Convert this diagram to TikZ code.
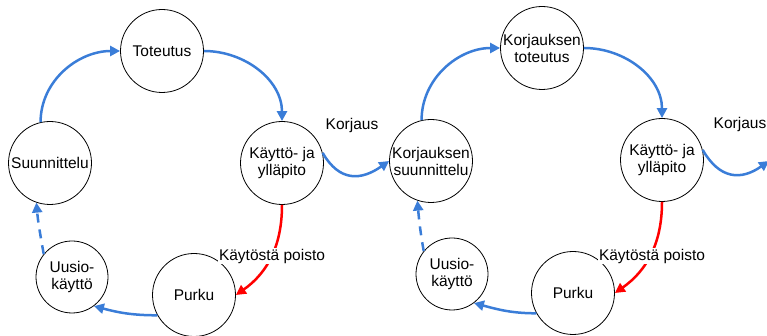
\documentclass[tikz,border=0pt]{standalone}
\usepackage{fontspec}
\setmainfont{Liberation Sans}
\usepackage{tikz}
\usetikzlibrary{arrows.meta, positioning}
\definecolor{flowblue}{RGB}{58,125,216}

\begin{document}
\begin{tikzpicture}[x=1pt,y=1pt,on grid,>={Triangle[length=10pt,width=10pt]}]
    \tikzstyle{state}=[shape=circle,draw,line width=0.8pt,minimum size=83pt,inner sep=0pt,align=center,font=\fontsize{15.5}{17}\selectfont]
    \tikzstyle{small state}=[state,minimum size=72pt]
    \tikzstyle{lbl}=[inner sep=1pt,font=\fontsize{15.5}{17}\selectfont]
    \tikzstyle{flow}=[->,line width=2.5pt,flowblue]

    \useasboundingbox (0,0) rectangle (767,336);
    \clip (0,0) rectangle (767,336);

    \node[state] (T0) at (162,285) {Toteutus};
    \node[state] (S0) at (50,173) {Suunnittelu};
    \node[state] (K0) at (282,173) {Käyttö- ja\\ylläpito};
    \node[small state] (U0) at (72,59) {Uusio-\\käyttö};
    \node[state] (P0) at (194,41) {Purku};

    \node[state, above right=3pt and 380pt of T0] (T1) {Korjauksen\\toteutus};
    \node[state, above right=2pt and 381pt of S0] (S1) {Korjauksen\\suunnittelu};
    \node[state, above right=3pt and 380pt of K0] (K1) {Käyttö- ja\\ylläpito};
    \node[small state, above right=3pt and 380pt of U0] (U1) {Uusio-\\käyttö};
    \node[state, above right=2pt and 379pt of P0] (P1) {Purku};
    \coordinate[above right=-1pt and 107pt of K1] (S2);

    \path[flow]
    (S0.103) edge[out=90, in=180] (T0.west)
    (T0.east) edge[out=0, in=90] (K0.north)
    (P0.209) edge[out=180, in=-15] (U0.-53)
    (U0.141) edge[dash pattern=on 9pt off 7pt, out=100, in=-85] (S0.251)
    (K0.14) edge[out=-60, in=215, looseness=1.3] (S1.west)

    (S1.103) edge[out=90, in=180] (T1.west)
    (T1.east) edge[out=0, in=90] (K1.north)
    (P1.209) edge[out=180, in=-15] (U1.-53)
    (U1.141) edge[dash pattern=on 9pt off 7pt, out=100, in=-85] (S1.251)
    (K1.14) edge[out=-60, in=215, looseness=1.3] (S2)
    ;

    \path[->, line width=2.5pt, red]
    (K0.south) edge[out=-90, in=35] (P0.east)
    (K1.south) edge[out=-90, in=35] (P1.east)
    ;

    \node[lbl, fill=white, below left=93pt and 10pt of K0] (poisto0) {Käytöstä poisto};
    \node[lbl, fill=white, below left=96pt and 10pt of K1] (poisto1) {Käytöstä poisto};
    \node[lbl, above right=38pt and 70pt of K0] (korjaus0) {Korjaus};
    \node[lbl, above right=36pt and 78pt of K1] (korjaus1) {Korjaus};

\end{tikzpicture}
\end{document}
